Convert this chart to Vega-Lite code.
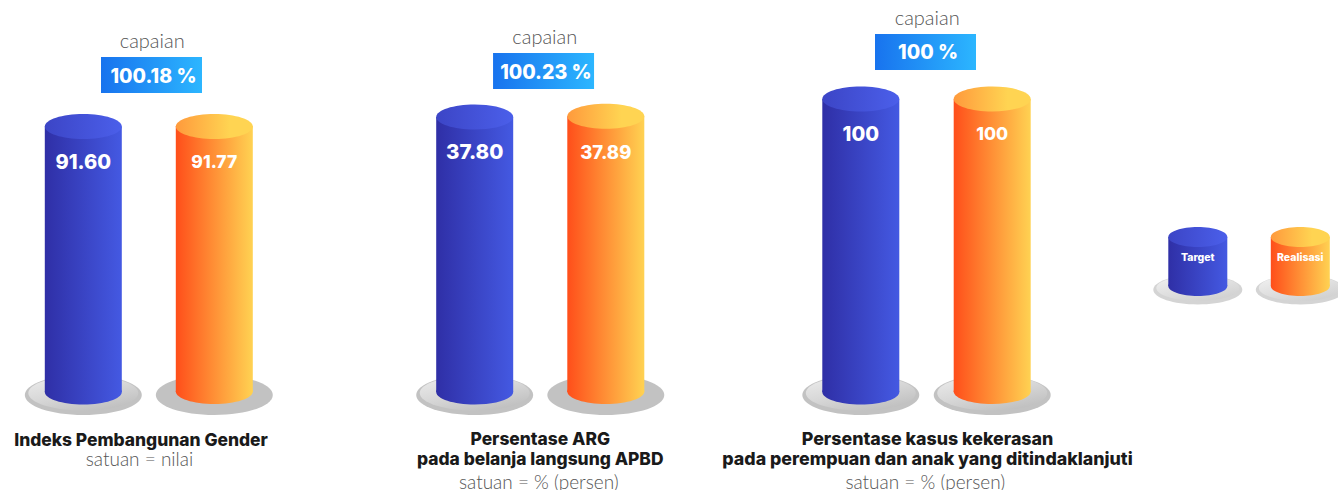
{"$schema":"https://vega.github.io/schema/vega-lite/v6.json","padding":0,"background":"white","spacing":0,"bounds":"flush","config":{"view":{"stroke":null},"axis":{"disable":true}},
"hconcat":[
{"width":335,"height":490,
"data":{"values":[{"seri":"Target","nilai":91.6,"label":"91.60"},{"seri":"Realisasi","nilai":91.77,"label":"91.77"},{"seri":"Capaian","nilai":91.6,"teks":"capaian","persen":"100.18 %","judul":"Indeks Pembangunan Gender","satuan":"satuan = nilai"}]},
"encoding":{"x":{"field":"seri","type":"nominal","scale":{"type":"point","padding":0,"domain":["Target","Capaian","Realisasi"],"range":[83.3,214.3]}},"y":{"field":"nilai","type":"quantitative","stack":null,"scale":{"domain":[-33.81,135.24],"range":[490,0],"nice":false,"zero":false}}},
"layer":[
{"transform":[{"filter":"datum.seri!='Capaian'"}],"mark":{"type":"point","shape":"M-1,0A1,0.342 0 1 1 1,0A1,0.342 0 1 1 -1,0Z","size":13689,"filled":true,"opacity":1,"strokeWidth":0,"yOffset":3,"fill":"#c2c2c2"},"encoding":{"y":{"datum":0}}},
{"transform":[{"filter":"datum.seri=='Target'"}],"mark":{"type":"point","shape":"M-1,0A1,0.32 0 1 1 1,0A1,0.32 0 1 1 -1,0Z","size":12100,"filled":true,"opacity":1,"strokeWidth":0,"yOffset":1,"fill":{"gradient":"linear","x1":0.1,"y1":0,"x2":0.7,"y2":1,"stops":[{"offset":0,"color":"#ececec"},{"offset":0.5,"color":"#d8d8d8"},{"offset":1,"color":"#bfbfbf"}]}},"encoding":{"y":{"datum":0}}},
{"transform":[{"filter":"datum.seri=='Target'"}],"mark":{"type":"point","shape":"M-1,0A1,0.325 0 1 1 1,0A1,0.325 0 1 1 -1,0Z","size":5929,"filled":true,"opacity":1,"strokeWidth":0,"fill":{"gradient":"linear","x1":0,"y1":0,"x2":1,"y2":0,"stops":[{"offset":0,"color":"#2f2fa6"},{"offset":1,"color":"#4459e2"}]}},"encoding":{"y":{"datum":0}}},
{"transform":[{"filter":"datum.seri=='Target'"}],"mark":{"type":"bar","width":77,"fill":{"gradient":"linear","x1":0,"y1":0,"x2":1,"y2":0,"stops":[{"offset":0,"color":"#2f2fa6"},{"offset":1,"color":"#4459e2"}]}}},
{"transform":[{"filter":"datum.seri=='Target'"}],"mark":{"type":"point","shape":"M-1,0A1,0.325 0 1 1 1,0A1,0.325 0 1 1 -1,0Z","size":5929,"filled":true,"opacity":1,"strokeWidth":0,"fill":{"gradient":"linear","x1":0,"y1":0,"x2":1,"y2":0,"stops":[{"offset":0,"color":"#3c45c6"},{"offset":1,"color":"#4b5fea"}]}}},
{"transform":[{"filter":"datum.seri=='Realisasi'"}],"mark":{"type":"point","shape":"M-1,0A1,0.325 0 1 1 1,0A1,0.325 0 1 1 -1,0Z","size":5929,"filled":true,"opacity":1,"strokeWidth":0,"yOffset":-0.5,"fill":{"gradient":"linear","x1":0,"y1":0,"x2":1,"y2":0,"stops":[{"offset":0,"color":"#ff4e1a"},{"offset":1,"color":"#ffd252"}]}},"encoding":{"y":{"datum":0}}},
{"transform":[{"filter":"datum.seri=='Realisasi'"}],"mark":{"type":"bar","width":77,"fill":{"gradient":"linear","x1":0,"y1":0,"x2":1,"y2":0,"stops":[{"offset":0,"color":"#ff4e1a"},{"offset":1,"color":"#ffd252"}]}}},
{"transform":[{"filter":"datum.seri=='Realisasi'"}],"mark":{"type":"point","shape":"M-1,0A1,0.325 0 1 1 1,0A1,0.325 0 1 1 -1,0Z","size":5929,"filled":true,"opacity":1,"strokeWidth":0,"yOffset":0.5,"fill":{"gradient":"linear","x1":0,"y1":0,"x2":0.7,"y2":0,"stops":[{"offset":0,"color":"#ff9a3c"},{"offset":1,"color":"#ffd452"}]}}},
{"transform":[{"filter":"datum.seri=='Target'"}],"mark":{"type":"text","font":"Inter","fontWeight":800,"fontSize":20,"color":"white","dy":36.5},"encoding":{"text":{"field":"label"}}},
{"transform":[{"filter":"datum.seri=='Realisasi'"}],"mark":{"type":"text","font":"Inter","fontWeight":800,"fontSize":17.5,"color":"white","dy":36.5},"encoding":{"text":{"field":"label"}}},
{"transform":[{"filter":"datum.seri=='Capaian'"}],"mark":{"type":"point","shape":"M-1,-0.356H1V0.356H-1Z","size":10201,"filled":true,"opacity":1,"strokeWidth":0,"xOffset":2.7,"yOffset":-51.5,"fill":{"gradient":"linear","x1":0,"y1":0,"x2":1,"y2":0,"stops":[{"offset":0,"color":"#1873ee"},{"offset":1,"color":"#2cb6ff"}]}}},
{"transform":[{"filter":"datum.seri=='Capaian'"}],"mark":{"type":"text","font":"Inter","fontWeight":800,"fontSize":19.5,"color":"white","dx":4.7,"dy":-49.5},"encoding":{"text":{"field":"persen"}}},
{"transform":[{"filter":"datum.seri=='Capaian'"}],"mark":{"type":"text","font":"Lato","fontWeight":300,"fontSize":20,"color":"#555555","dx":3.4,"dy":-84.5},"encoding":{"text":{"field":"teks"}}},
{"transform":[{"filter":"datum.seri=='Capaian'"}],"mark":{"type":"text","font":"Inter","fontWeight":800,"fontSize":17.4,"color":"#1a1a1a","dx":-7.8,"dy":49},"encoding":{"y":{"datum":0},"text":{"field":"judul"}}},
{"transform":[{"filter":"datum.seri=='Capaian'"}],"mark":{"type":"text","font":"Lato","fontWeight":300,"fontSize":19,"color":"#555555","dx":-9.3,"dy":68},"encoding":{"y":{"datum":0},"text":{"field":"satuan"}}}
]},
{"width":365,"height":490,
"data":{"values":[{"seri":"Target","nilai":37.8,"label":"37.80"},{"seri":"Realisasi","nilai":37.89,"label":"37.89"},{"seri":"Capaian","nilai":37.8,"teks":"capaian","persen":"100.23 %","judul":"Persentase ARG","judul2":"pada belanja langsung APBD","satuan":"satuan = % (persen)"}]},
"encoding":{"x":{"field":"seri","type":"nominal","scale":{"type":"point","padding":0,"domain":["Target","Capaian","Realisasi"],"range":[139.7,270.8]}},"y":{"field":"nilai","type":"quantitative","stack":null,"scale":{"domain":[-13.47,53.88],"range":[490,0],"nice":false,"zero":false}}},
"layer":[
{"transform":[{"filter":"datum.seri!='Capaian'"}],"mark":{"type":"point","shape":"M-1,0A1,0.342 0 1 1 1,0A1,0.342 0 1 1 -1,0Z","size":13689,"filled":true,"opacity":1,"strokeWidth":0,"yOffset":3,"fill":"#c2c2c2"},"encoding":{"y":{"datum":0}}},
{"transform":[{"filter":"datum.seri=='Target'"}],"mark":{"type":"point","shape":"M-1,0A1,0.32 0 1 1 1,0A1,0.32 0 1 1 -1,0Z","size":12100,"filled":true,"opacity":1,"strokeWidth":0,"yOffset":1,"fill":{"gradient":"linear","x1":0.1,"y1":0,"x2":0.7,"y2":1,"stops":[{"offset":0,"color":"#ececec"},{"offset":0.5,"color":"#d8d8d8"},{"offset":1,"color":"#bfbfbf"}]}},"encoding":{"y":{"datum":0}}},
{"transform":[{"filter":"datum.seri=='Target'"}],"mark":{"type":"point","shape":"M-1,0A1,0.325 0 1 1 1,0A1,0.325 0 1 1 -1,0Z","size":5929,"filled":true,"opacity":1,"strokeWidth":0,"fill":{"gradient":"linear","x1":0,"y1":0,"x2":1,"y2":0,"stops":[{"offset":0,"color":"#2f2fa6"},{"offset":1,"color":"#4459e2"}]}},"encoding":{"y":{"datum":0}}},
{"transform":[{"filter":"datum.seri=='Target'"}],"mark":{"type":"bar","width":77,"fill":{"gradient":"linear","x1":0,"y1":0,"x2":1,"y2":0,"stops":[{"offset":0,"color":"#2f2fa6"},{"offset":1,"color":"#4459e2"}]}}},
{"transform":[{"filter":"datum.seri=='Target'"}],"mark":{"type":"point","shape":"M-1,0A1,0.325 0 1 1 1,0A1,0.325 0 1 1 -1,0Z","size":5929,"filled":true,"opacity":1,"strokeWidth":0,"fill":{"gradient":"linear","x1":0,"y1":0,"x2":1,"y2":0,"stops":[{"offset":0,"color":"#3c45c6"},{"offset":1,"color":"#4b5fea"}]}}},
{"transform":[{"filter":"datum.seri=='Realisasi'"}],"mark":{"type":"point","shape":"M-1,0A1,0.325 0 1 1 1,0A1,0.325 0 1 1 -1,0Z","size":5929,"filled":true,"opacity":1,"strokeWidth":0,"yOffset":-0.5,"fill":{"gradient":"linear","x1":0,"y1":0,"x2":1,"y2":0,"stops":[{"offset":0,"color":"#ff4e1a"},{"offset":1,"color":"#ffd252"}]}},"encoding":{"y":{"datum":0}}},
{"transform":[{"filter":"datum.seri=='Realisasi'"}],"mark":{"type":"bar","width":77,"fill":{"gradient":"linear","x1":0,"y1":0,"x2":1,"y2":0,"stops":[{"offset":0,"color":"#ff4e1a"},{"offset":1,"color":"#ffd252"}]}}},
{"transform":[{"filter":"datum.seri=='Realisasi'"}],"mark":{"type":"point","shape":"M-1,0A1,0.325 0 1 1 1,0A1,0.325 0 1 1 -1,0Z","size":5929,"filled":true,"opacity":1,"strokeWidth":0,"fill":{"gradient":"linear","x1":0,"y1":0,"x2":0.7,"y2":0,"stops":[{"offset":0,"color":"#ff9a3c"},{"offset":1,"color":"#ffd452"}]}}},
{"transform":[{"filter":"datum.seri=='Target'"}],"mark":{"type":"text","font":"Inter","fontWeight":800,"fontSize":20.5,"color":"white","dy":36},"encoding":{"text":{"field":"label"}}},
{"transform":[{"filter":"datum.seri=='Realisasi'"}],"mark":{"type":"text","font":"Inter","fontWeight":800,"fontSize":18.5,"color":"white","dy":37},"encoding":{"text":{"field":"label"}}},
{"transform":[{"filter":"datum.seri=='Capaian'"}],"mark":{"type":"point","shape":"M-1,-0.356H1V0.356H-1Z","size":10201,"filled":true,"opacity":1,"strokeWidth":0,"xOffset":3.3,"yOffset":-46,"fill":{"gradient":"linear","x1":0,"y1":0,"x2":1,"y2":0,"stops":[{"offset":0,"color":"#1873ee"},{"offset":1,"color":"#2cb6ff"}]}}},
{"transform":[{"filter":"datum.seri=='Capaian'"}],"mark":{"type":"text","font":"Inter","fontWeight":800,"fontSize":19.5,"color":"white","dx":5.6,"dy":-44},"encoding":{"text":{"field":"persen"}}},
{"transform":[{"filter":"datum.seri=='Capaian'"}],"mark":{"type":"text","font":"Lato","fontWeight":300,"fontSize":20,"color":"#555555","dx":4.5,"dy":-79},"encoding":{"text":{"field":"teks"}}},
{"transform":[{"filter":"datum.seri=='Capaian'"}],"mark":{"type":"text","font":"Inter","fontWeight":800,"fontSize":17.4,"color":"#1a1a1a","dy":48},"encoding":{"y":{"datum":0},"text":{"field":"judul"}}},
{"transform":[{"filter":"datum.seri=='Capaian'"}],"mark":{"type":"text","font":"Inter","fontWeight":800,"fontSize":17.4,"color":"#1a1a1a","dy":68},"encoding":{"y":{"datum":0},"text":{"field":"judul2"}}},
{"transform":[{"filter":"datum.seri=='Capaian'"}],"mark":{"type":"text","font":"Lato","fontWeight":300,"fontSize":19,"color":"#555555","dx":-1.4,"dy":91},"encoding":{"y":{"datum":0},"text":{"field":"satuan"}}}
]},
{"width":440,"height":490,
"data":{"values":[{"seri":"Target","nilai":100,"label":"100"},{"seri":"Realisasi","nilai":100,"label":"100"},{"seri":"Capaian","nilai":100,"teks":"capaian","persen":"100 %","judul":"Persentase kasus kekerasan","judul2":"pada perempuan dan anak yang ditindaklanjuti","satuan":"satuan = % (persen)"}]},
"encoding":{"x":{"field":"seri","type":"nominal","scale":{"type":"point","padding":0,"domain":["Target","Capaian","Realisasi"],"range":[160.8,292.2]}},"y":{"field":"nilai","type":"quantitative","stack":null,"scale":{"domain":[-33.45,133.79],"range":[490,0],"nice":false,"zero":false}}},
"layer":[
{"transform":[{"filter":"datum.seri!='Capaian'"}],"mark":{"type":"point","shape":"M-1,0A1,0.342 0 1 1 1,0A1,0.342 0 1 1 -1,0Z","size":13689,"filled":true,"opacity":1,"strokeWidth":0,"yOffset":3,"fill":"#c2c2c2"},"encoding":{"y":{"datum":0}}},
{"transform":[{"filter":"datum.seri!='Capaian'"}],"mark":{"type":"point","shape":"M-1,0A1,0.32 0 1 1 1,0A1,0.32 0 1 1 -1,0Z","size":12100,"filled":true,"opacity":1,"strokeWidth":0,"yOffset":1,"fill":{"gradient":"linear","x1":0.1,"y1":0,"x2":0.7,"y2":1,"stops":[{"offset":0,"color":"#ececec"},{"offset":0.5,"color":"#d8d8d8"},{"offset":1,"color":"#bfbfbf"}]}},"encoding":{"y":{"datum":0}}},
{"transform":[{"filter":"datum.seri=='Target'"}],"mark":{"type":"point","shape":"M-1,0A1,0.325 0 1 1 1,0A1,0.325 0 1 1 -1,0Z","size":5929,"filled":true,"opacity":1,"strokeWidth":0,"fill":{"gradient":"linear","x1":0,"y1":0,"x2":1,"y2":0,"stops":[{"offset":0,"color":"#2f2fa6"},{"offset":1,"color":"#4459e2"}]}},"encoding":{"y":{"datum":0}}},
{"transform":[{"filter":"datum.seri=='Target'"}],"mark":{"type":"bar","width":77,"fill":{"gradient":"linear","x1":0,"y1":0,"x2":1,"y2":0,"stops":[{"offset":0,"color":"#2f2fa6"},{"offset":1,"color":"#4459e2"}]}}},
{"transform":[{"filter":"datum.seri=='Target'"}],"mark":{"type":"point","shape":"M-1,0A1,0.325 0 1 1 1,0A1,0.325 0 1 1 -1,0Z","size":5929,"filled":true,"opacity":1,"strokeWidth":0,"fill":{"gradient":"linear","x1":0,"y1":0,"x2":1,"y2":0,"stops":[{"offset":0,"color":"#3c45c6"},{"offset":1,"color":"#4b5fea"}]}}},
{"transform":[{"filter":"datum.seri=='Realisasi'"}],"mark":{"type":"point","shape":"M-1,0A1,0.325 0 1 1 1,0A1,0.325 0 1 1 -1,0Z","size":5929,"filled":true,"opacity":1,"strokeWidth":0,"yOffset":-0.5,"fill":{"gradient":"linear","x1":0,"y1":0,"x2":1,"y2":0,"stops":[{"offset":0,"color":"#ff4e1a"},{"offset":1,"color":"#ffd252"}]}},"encoding":{"y":{"datum":0}}},
{"transform":[{"filter":"datum.seri=='Realisasi'"}],"mark":{"type":"bar","width":77,"fill":{"gradient":"linear","x1":0,"y1":0,"x2":1,"y2":0,"stops":[{"offset":0,"color":"#ff4e1a"},{"offset":1,"color":"#ffd252"}]}}},
{"transform":[{"filter":"datum.seri=='Realisasi'"}],"mark":{"type":"point","shape":"M-1,0A1,0.325 0 1 1 1,0A1,0.325 0 1 1 -1,0Z","size":5929,"filled":true,"opacity":1,"strokeWidth":0,"fill":{"gradient":"linear","x1":0,"y1":0,"x2":0.7,"y2":0,"stops":[{"offset":0,"color":"#ff9a3c"},{"offset":1,"color":"#ffd452"}]}}},
{"transform":[{"filter":"datum.seri=='Target'"}],"mark":{"type":"text","font":"Inter","fontWeight":800,"fontSize":20,"color":"white","dy":35.5},"encoding":{"text":{"field":"label"}}},
{"transform":[{"filter":"datum.seri=='Realisasi'"}],"mark":{"type":"text","font":"Inter","fontWeight":800,"fontSize":17.5,"color":"white","dy":36},"encoding":{"text":{"field":"label"}}},
{"transform":[{"filter":"datum.seri=='Capaian'"}],"mark":{"type":"point","shape":"M-1,-0.356H1V0.356H-1Z","size":10201,"filled":true,"opacity":1,"strokeWidth":0,"xOffset":-1,"yOffset":-47,"fill":{"gradient":"linear","x1":0,"y1":0,"x2":1,"y2":0,"stops":[{"offset":0,"color":"#1873ee"},{"offset":1,"color":"#2cb6ff"}]}}},
{"transform":[{"filter":"datum.seri=='Capaian'"}],"mark":{"type":"text","font":"Inter","fontWeight":800,"fontSize":19.5,"color":"white","dx":1.5,"dy":-46},"encoding":{"text":{"field":"persen"}}},
{"transform":[{"filter":"datum.seri=='Capaian'"}],"mark":{"type":"text","font":"Lato","fontWeight":300,"fontSize":20,"color":"#555555","dx":0.7,"dy":-80},"encoding":{"text":{"field":"teks"}}},
{"transform":[{"filter":"datum.seri=='Capaian'"}],"mark":{"type":"text","font":"Inter","fontWeight":800,"fontSize":17.8,"color":"#1a1a1a","dx":1,"dy":48},"encoding":{"y":{"datum":0},"text":{"field":"judul"}}},
{"transform":[{"filter":"datum.seri=='Capaian'"}],"mark":{"type":"text","font":"Inter","fontWeight":800,"fontSize":17.8,"color":"#1a1a1a","dx":1,"dy":68},"encoding":{"y":{"datum":0},"text":{"field":"judul2"}}},
{"transform":[{"filter":"datum.seri=='Capaian'"}],"mark":{"type":"text","font":"Lato","fontWeight":300,"fontSize":19,"color":"#555555","dx":-1.2,"dy":91},"encoding":{"y":{"datum":0},"text":{"field":"satuan"}}}
]},
{"width":198,"height":490,
"data":{"values":[{"seri":"Target","nilai":1},{"seri":"Realisasi","nilai":1}]},
"encoding":{"x":{"field":"seri","type":"nominal","scale":{"type":"point","padding":0,"domain":["Target","Realisasi"],"range":[57.8,160.3]}},"y":{"field":"nilai","type":"quantitative","stack":null,"scale":{"domain":[-4.163,5.837],"range":[490,0],"nice":false,"zero":false}}},
"layer":[
{"mark":{"type":"point","shape":"M-1,0A1,0.33 0 1 1 1,0A1,0.33 0 1 1 -1,0Z","size":7921,"filled":true,"opacity":1,"strokeWidth":0,"yOffset":3.7,"fill":"#d4d4d4"},"encoding":{"y":{"datum":0}}},
{"mark":{"type":"point","shape":"M-1,0A1,0.31 0 1 1 1,0A1,0.31 0 1 1 -1,0Z","size":6889,"filled":true,"opacity":1,"strokeWidth":0,"yOffset":2,"fill":{"gradient":"linear","x1":0.1,"y1":0,"x2":0.7,"y2":1,"stops":[{"offset":0,"color":"#f2f2f2"},{"offset":1,"color":"#d0d0d0"}]}},"encoding":{"y":{"datum":0}}},
{"transform":[{"filter":"datum.seri=='Target'"}],"mark":{"type":"point","shape":"M-1,0A1,0.339 0 1 1 1,0A1,0.339 0 1 1 -1,0Z","size":3481,"filled":true,"opacity":1,"strokeWidth":0,"fill":{"gradient":"linear","x1":0,"y1":0,"x2":1,"y2":0,"stops":[{"offset":0,"color":"#2f2fa6"},{"offset":1,"color":"#4459e2"}]}},"encoding":{"y":{"datum":0}}},
{"transform":[{"filter":"datum.seri=='Target'"}],"mark":{"type":"bar","width":59,"fill":{"gradient":"linear","x1":0,"y1":0,"x2":1,"y2":0,"stops":[{"offset":0,"color":"#2f2fa6"},{"offset":1,"color":"#4459e2"}]}}},
{"transform":[{"filter":"datum.seri=='Target'"}],"mark":{"type":"point","shape":"M-1,0A1,0.339 0 1 1 1,0A1,0.339 0 1 1 -1,0Z","size":3481,"filled":true,"opacity":1,"strokeWidth":0,"fill":{"gradient":"linear","x1":0,"y1":0,"x2":1,"y2":0,"stops":[{"offset":0,"color":"#3c45c6"},{"offset":1,"color":"#4b5fea"}]}}},
{"transform":[{"filter":"datum.seri=='Realisasi'"}],"mark":{"type":"point","shape":"M-1,0A1,0.339 0 1 1 1,0A1,0.339 0 1 1 -1,0Z","size":3481,"filled":true,"opacity":1,"strokeWidth":0,"fill":{"gradient":"linear","x1":0,"y1":0,"x2":1,"y2":0,"stops":[{"offset":0,"color":"#ff4e1a"},{"offset":1,"color":"#ffd252"}]}},"encoding":{"y":{"datum":0}}},
{"transform":[{"filter":"datum.seri=='Realisasi'"}],"mark":{"type":"bar","width":59,"fill":{"gradient":"linear","x1":0,"y1":0,"x2":1,"y2":0,"stops":[{"offset":0,"color":"#ff4e1a"},{"offset":1,"color":"#ffd252"}]}}},
{"transform":[{"filter":"datum.seri=='Realisasi'"}],"mark":{"type":"point","shape":"M-1,0A1,0.339 0 1 1 1,0A1,0.339 0 1 1 -1,0Z","size":3481,"filled":true,"opacity":1,"strokeWidth":0,"fill":{"gradient":"linear","x1":0,"y1":0,"x2":0.7,"y2":0,"stops":[{"offset":0,"color":"#ff9a3c"},{"offset":1,"color":"#ffd452"}]}}},
{"mark":{"type":"text","font":"Inter","fontWeight":800,"fontSize":10.5,"color":"white","dy":21},"encoding":{"text":{"field":"seri"}}}
]}
]}
